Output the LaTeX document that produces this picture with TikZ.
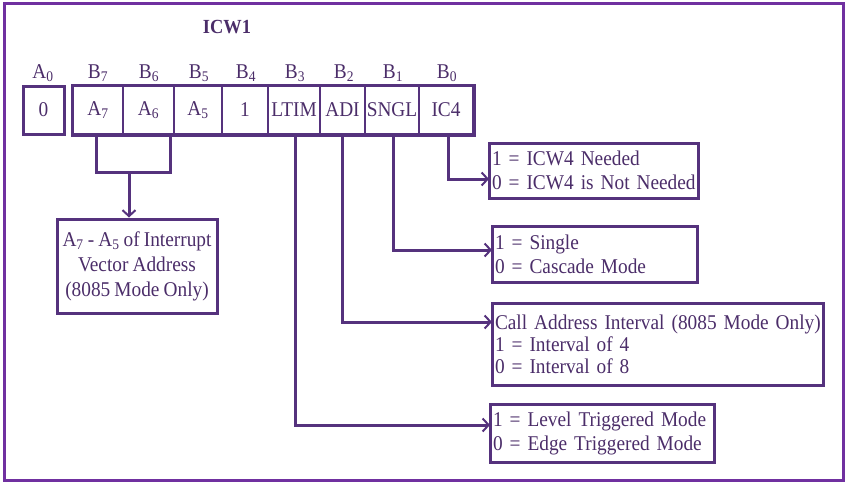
\documentclass[tikz,border=0pt]{standalone}
\usepackage{fontspec}
\setmainfont[FakeStretch=0.92,WordSpace=0.85]{Liberation Serif}
\usetikzlibrary{arrows.meta,calc}
\definecolor{frm}{RGB}{112,48,160}
\definecolor{ln}{RGB}{85,50,125}
\definecolor{tx}{RGB}{75,45,105}
\begin{document}
\begin{tikzpicture}[x=1pt,y=-1pt,
  every node/.style={text=tx, font=\fontsize{21}{24}\selectfont},
  cellbox/.style={draw=ln, line width=2pt, minimum height=48pt, inner sep=0pt},
  lbl/.style={inner sep=0pt},
  desc/.style={draw=ln, line width=3pt, align=left, inner xsep=3pt, inner ysep=0pt},
  conn/.style={draw=ln, line width=3pt, -{Straight Barb[length=6pt,width=13pt,line width=2pt]}},
  wire/.style={draw=ln, line width=3pt},
]
\useasboundingbox (0,0) rectangle (846,483);
\draw[frm, line width=3pt] (4,3) rectangle (843,480);

% title
\node[lbl, font=\fontsize{20}{22}\selectfont\bfseries] (title) at (227,27) {ICW1};

% bit labels
\node[lbl] (la0) at (43,73) {A\textsubscript{0}};
\node[lbl] (lb7) at (98,73) {B\textsubscript{7}};
\node[lbl] (lb6) at (149,73) {B\textsubscript{6}};
\node[lbl] (lb5) at (199,73) {B\textsubscript{5}};
\node[lbl] (lb4) at (246,73) {B\textsubscript{4}};
\node[lbl] (lb3) at (295,73) {B\textsubscript{3}};
\node[lbl] (lb2) at (344,73) {B\textsubscript{2}};
\node[lbl] (lb1) at (393,73) {B\textsubscript{1}};
\node[lbl] (lb0) at (447,73) {B\textsubscript{0}};

% A0 box
\node[cellbox, line width=3pt, minimum width=41pt] (a0) at (43.5,110) {0};

% register cells
\node[cellbox, minimum width=50pt] (c7) at (98,110) {A\textsubscript{7}};
\node[cellbox, minimum width=51pt] (c6) at (148.5,110) {A\textsubscript{6}};
\node[cellbox, minimum width=48pt] (c5) at (198,110) {A\textsubscript{5}};
\node[cellbox, minimum width=46pt] (c4) at (245,110) {1};
\node[cellbox, minimum width=52pt] (c3) at (294,110) {LTIM};
\node[cellbox, minimum width=45pt] (c2) at (342.5,110) {ADI};
\node[cellbox, minimum width=54pt] (c1) at (392,110) {SNGL};
\node[cellbox, minimum width=54pt] (c0) at (446,110) {IC4};
\draw[ln, line width=3pt] (c7.north west) rectangle (c0.south east);

% vector address box
\node[draw=ln, line width=3pt, minimum width=160pt, minimum height=94pt, align=center,
      inner sep=0pt, font=\fontsize{21}{25}\selectfont] (vec) at (137,266)
  {A\textsubscript{7} - A\textsubscript{5} of Interrupt\\Vector Address\\(8085 Mode Only)};

% description boxes
\node[desc, text width=203pt, minimum height=55pt] (d0) at (593.5,170.5)
  {\mbox{1 = ICW4 Needed}\\\mbox{0 = ICW4 is Not Needed}};
\node[desc, text width=199pt, minimum height=56pt] (d1) at (594.5,254)
  {\mbox{1 = Single}\\\mbox{0 = Cascade Mode}};
\node[desc, text width=325pt, minimum height=82pt, font=\fontsize{21}{22}\selectfont] (d2) at (657.5,344)
  {\mbox{Call Address Interval (8085 Mode Only)}\\\mbox{1 = Interval of 4}\\\mbox{0 = Interval of 8}};
\node[desc, text width=218pt, minimum height=58pt] (d3) at (602,433)
  {\mbox{1 = Level Triggered Mode}\\\mbox{0 = Edge Triggered Mode}};

% bracket from A7 / A6
\coordinate (bl) at (96,172);
\coordinate (br) at (170,172);
\coordinate (bm) at (129,172);
\draw[wire] (bl |- c7.south) -- (bl) -- (br) -- (br |- c6.south);
\draw[conn] (bm) -- (bm |- vec.north);

% connectors to descriptions
\coordinate (e0) at (489,179);
\coordinate (e1) at (492,250);
\coordinate (e2) at (492,322);
\coordinate (e3) at (490,425);
\draw[conn] ([xshift=2pt]c0.south) |- (e0);
\draw[conn] ([xshift=1pt]c1.south) |- (e1);
\draw[conn] (c2.south) |- (e2);
\draw[conn] ([xshift=1pt]c3.south) |- (e3);
\end{tikzpicture}
\end{document}
